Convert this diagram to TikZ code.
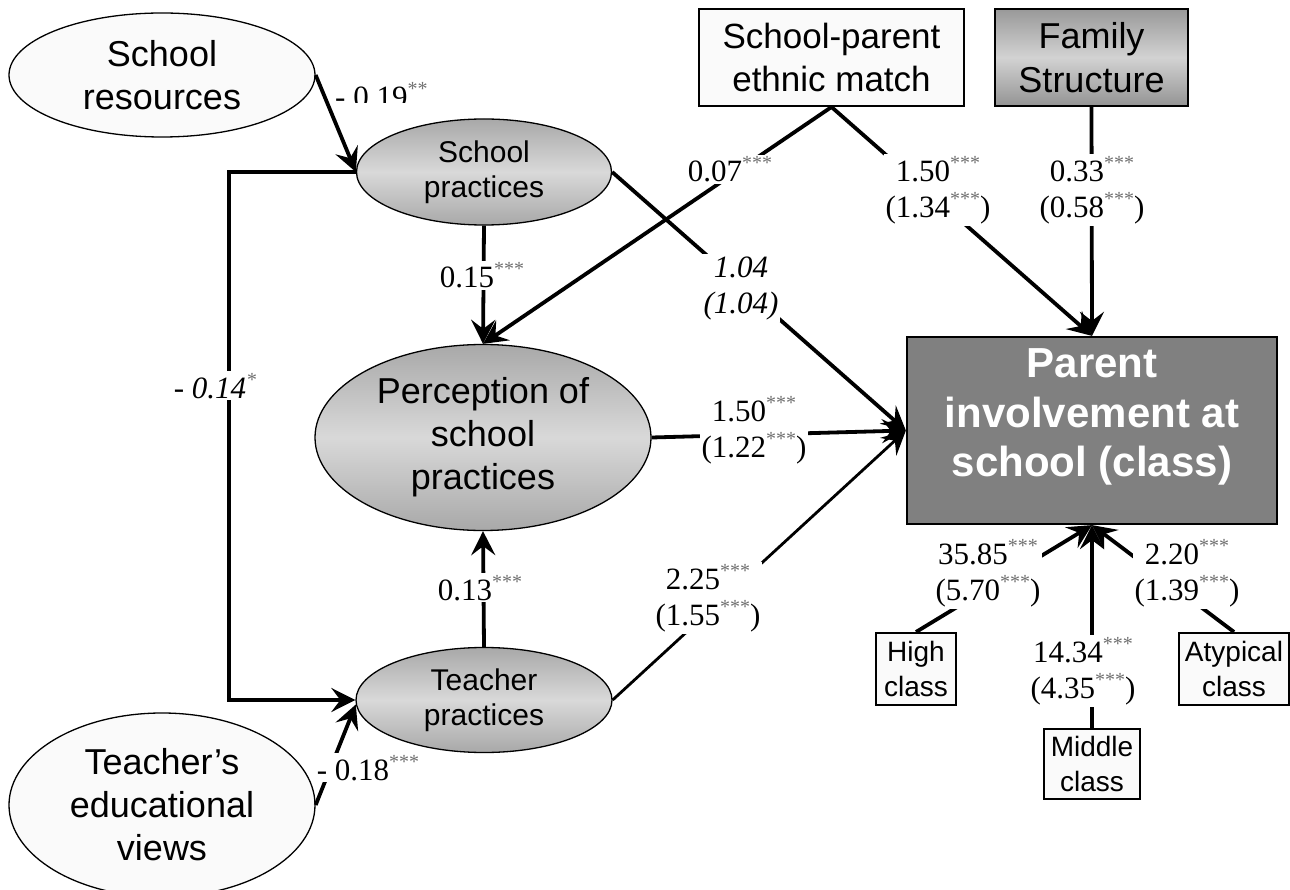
\documentclass[tikz,border=0pt]{standalone}
\usepackage{fontspec}
\setmainfont{Liberation Serif}
\setsansfont{Liberation Sans}
\usetikzlibrary{arrows.meta,shapes.geometric}

\definecolor{paper}{HTML}{FAFAFA}
\definecolor{starcol}{HTML}{707070}
\definecolor{boxgray}{HTML}{808080}

% significance stars, raised and set small
\newcommand\sig[1]{\textcolor{starcol}{\raisebox{12pt}{\fontsize{20}{20}\selectfont #1}}}

\begin{document}
\begin{tikzpicture}[x=1pt,y=-1pt,
  >={Stealth[length=24pt,width=24pt,inset=9pt]},
  conn/.style={line width=3.8pt,->},
  thinconn/.style={line width=2.8pt,->},
  latentlight/.style={ellipse, draw, line width=1.3pt, fill=paper, inner sep=0pt,
    align=center, font=\sffamily\fontsize{36}{43}\selectfont},
  latentgray/.style={ellipse, draw, line width=1.3pt, inner sep=0pt, align=center,
    top color=gray!68, bottom color=gray!68, middle color=gray!30},
  smallfont/.style={font=\sffamily\fontsize{30}{35}\selectfont},
  bigfont/.style={font=\sffamily\fontsize{36}{43}\selectfont},
  obsbox/.style={draw, line width=2pt, inner sep=0pt, align=center},
  classbox/.style={obsbox, fill=paper, font=\sffamily\fontsize{28}{35}\selectfont},
  lab/.style={fill=white, inner sep=2pt, align=center, font=\fontsize{31}{36}\selectfont},
]
\useasboundingbox (0,0) rectangle (1290,890);

% ---------- latent variables ----------
\node[latentlight, minimum width=306pt, minimum height=124pt] (sres) at (162,75) {School\\resources};
\node[latentlight, minimum width=306pt, minimum height=184pt] (tev) at (162,805) {Teacher’s\\educational\\views};
\node[latentgray, smallfont, minimum width=255pt, minimum height=106pt] (spr) at (484,172) {School\\practices};
\node[latentgray, bigfont, minimum width=336pt, minimum height=186pt] (perc) at (483,437.5) {Perception of\\school\\practices};
\node[latentgray, smallfont, minimum width=256pt, minimum height=105pt] (tpr) at (484,700) {Teacher\\practices};

% ---------- observed variables ----------
\node[obsbox, fill=paper, font=\sffamily\fontsize{35}{43}\selectfont,
  minimum width=265pt, minimum height=97pt] (match) at (831.5,57.5) {School-parent\\ethnic match};
\node[obsbox, font=\sffamily\fontsize{36}{44}\selectfont,
  top color=gray!80, bottom color=gray!84, middle color=gray!35,
  minimum width=193pt, minimum height=97pt] (fam) at (1091.5,57.5) {Family\\Structure};
\node[draw, line width=2.2pt, fill=boxgray, minimum width=370pt, minimum height=187pt,
  inner sep=0pt] (parent) at (1092,430.5) {};
\node[text=white, align=center, inner sep=0pt,
  font=\sffamily\bfseries\fontsize{42}{49.5}\selectfont] (ptext) at (1092,417)
  {Parent\\involvement at\\school (class)};
\node[classbox, minimum width=80pt, minimum height=72pt] (high) at (916,669) {High\\class};
\node[classbox, minimum width=96pt, minimum height=70pt] (mid) at (1092,764) {Middle\\class};
\node[classbox, minimum width=110pt, minimum height=72pt] (atyp) at (1234,669) {Atypical\\class};

% ---------- paths ----------
\draw[conn] (sres.east) -- (spr.west);
\draw[conn] (spr.west) -- ++(-127,0) |- (tpr.west);
\draw[conn] (tev.east) -- (tpr.182);
\draw[conn] (spr.south) -- (perc.north);
\draw[conn] (match.south) -- (perc.north);
\draw[conn] (tpr.north) -- (perc.south);
\draw[conn] (spr.east) -- (parent.west);
\draw[conn] (perc.east) -- (parent.west);
\draw[thinconn] (tpr.east) -- (parent.west);
\draw[conn] (match.south) -- (parent.north);
\draw[conn] (fam.south) -- (parent.north);
\draw[conn] (high.north) -- (parent.south);
\draw[conn] (mid.north) -- (parent.south);
\draw[conn] (atyp.north) -- (parent.south);

% ---------- coefficients ----------
\begin{scope}
  \clip (320,60) rectangle (440,103);
  \node[lab, fill=none, anchor=base west] (l019) at (333,108) {- 0.19\sig{**}};
\end{scope}
\node[lab, anchor=base] (l015) at (482,288) {0.15\sig{***}};
\node[lab, anchor=base] (l014) at (215,398) {\itshape - 0.14\sig{*}};
\node[lab, anchor=base] (l018) at (368,780) {- 0.18\sig{***}};
\node[lab, anchor=base] (l013) at (480,600) {0.13\sig{***}};
\node[lab, anchor=base] (l007) at (730,182) {0.07\sig{***}};
\node[lab, font=\itshape\fontsize{31}{36}\selectfont] (l104) at (741,288) {1.04\\(1.04)};
\node[lab] (l150a) at (938,190) {1.50\sig{***}\\(1.34\sig{***})};
\node[lab] (l033) at (1092,190) {0.33\sig{***}\\(0.58\sig{***})};
\node[lab] (l150b) at (754,430) {1.50\sig{***}\\(1.22\sig{***})};
\node[lab] (l225) at (708,598) {2.25\sig{***}\\(1.55\sig{***})};
\node[lab] (l3585) at (988,573) {35.85\sig{***}\\(5.70\sig{***})};
\node[lab] (l1434) at (1083,671) {14.34\sig{***}\\(4.35\sig{***})};
\node[lab] (l220) at (1187,573) {2.20\sig{***}\\(1.39\sig{***})};
\end{tikzpicture}
\end{document}
